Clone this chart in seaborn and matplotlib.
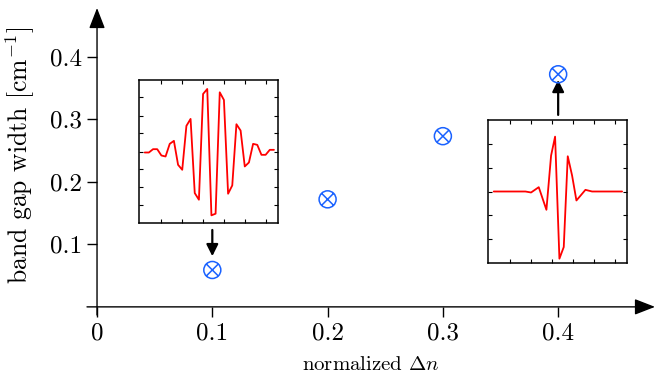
import matplotlib
matplotlib.use('Agg')
import matplotlib.pyplot as plt
import seaborn as sns
import numpy as np
import pandas as pd
from matplotlib.path import Path

# main data: band gap width vs normalized index contrast
dn = [0.1, 0.2, 0.3, 0.4]
gap = [0.059, 0.172, 0.273, 0.372]
xtick_vals = [0, 0.1, 0.2, 0.3, 0.4]
xtick_labels = ['0', '0.1', '0.2', '0.3', '0.4']
ytick_vals = [0.1, 0.2, 0.3, 0.4]
ytick_labels = ['0.1', '0.2', '0.3', '0.4']

# inset 1 (dn = 0.1): field profile, arbitrary units
t1 = list(range(32))
v1 = [-3, -3, 7, 7, -12, -15, 23, 32, -40, -55, 77, 98, -125, -145, 173, 188,
      -192, -187, 178, 155, -127, -102, 82, 63, -45, -33, 23, 20, -10, -10, 5, 5]

# inset 2 (dn = 0.4)
t2 = [0, 7.6, 8.96, 10.8, 12.64, 13.76, 14.72, 15.76, 16.8, 17.76, 18.8, 19.84, 22, 23.6, 30.8]
v2 = [0, 0, -3, 13, -55, 108, 165, -202, -167, 106, 48, -27, 5, 0, 0]

sns.set_style('white')
plt.rcParams['font.family'] = ['cmr10', 'DejaVu Serif']
plt.rcParams['mathtext.fontset'] = 'cm'
plt.rcParams['axes.unicode_minus'] = False
plt.rcParams['axes.formatter.use_mathtext'] = True
for k in ['text.color', 'axes.labelcolor', 'xtick.color', 'ytick.color']:
    plt.rcParams[k] = 'black'

fig = plt.figure(figsize=(6.58, 3.81), dpi=100)
ax = fig.add_axes([87 / 658, 1 - 315 / 381, 568 / 658, 307 / 381])
ax.set_facecolor('none')

xmin, xmax = -0.0087, 0.484
ymin, ymax = -0.013, 0.478
ax.set_xlim(xmin, xmax)
ax.set_ylim(ymin, ymax)

# circle with a cross inside
circ = Path.unit_circle()
r = 0.7071
cross = Path([(-r, -r), (r, r), (-r, r), (r, -r)],
             [Path.MOVETO, Path.LINETO, Path.MOVETO, Path.LINETO])
otimes = Path.make_compound_path(circ, cross)

df = pd.DataFrame({'dn': dn, 'gap': gap})
sns.scatterplot(data=df, x='dn', y='gap', ax=ax, marker=otimes, s=150,
                facecolor='none', edgecolor='#1a62ff', linewidth=1.1, zorder=5)

for s in ax.spines.values():
    s.set_visible(False)
ax.spines['bottom'].set_position(('data', 0))
ax.spines['left'].set_position(('data', 0))

ax.set_xticks(xtick_vals)
ax.set_xticklabels(xtick_labels)
ax.set_yticks(ytick_vals)
ax.set_yticklabels(ytick_labels)
ax.tick_params(direction='out', length=7, width=1, labelsize=18, pad=4,
               bottom=True, left=True, top=False, right=False)
ax.set_xlabel(r'normalized $\Delta n$', fontsize=15)
ax.set_ylabel(r'band gap width [cm$^{-1}$]', fontsize=18.5)
ax.xaxis.set_label_coords(0.5, -0.135)
ax.yaxis.set_label_coords(-0.088, 0.52)

# axes with arrow heads
head = dict(arrowstyle='-|>,head_length=0.9,head_width=0.35', lw=1.0, color='k',
            mutation_scale=14, shrinkA=0, shrinkB=0)
ax.annotate('', xy=(xmax, 0), xytext=(xmin, 0), arrowprops=head, annotation_clip=False)
ax.annotate('', xy=(0, ymax), xytext=(0, ymin), arrowprops=head, annotation_clip=False)

# small arrows pointing from insets to points
small = dict(arrowstyle='-|>,head_length=0.5,head_width=0.25', lw=1.6, color='k',
             mutation_scale=14, shrinkA=0, shrinkB=0)
ax.annotate('', xy=(0.1, 0.081), xytext=(0.1, 0.123), arrowprops=small)
ax.annotate('', xy=(0.4, 0.363), xytext=(0.4, 0.307), arrowprops=small)

# insets
def inset(rect, t, v, yticks):
    a = fig.add_axes(rect)
    sns.lineplot(x=t, y=v, ax=a, color='red', lw=1.3, sort=False)
    a.set_xlim(-1.3, 31.9)
    a.set_ylim(-215, 215)
    a.set_xticks([4, 9, 14, 19, 24, 29])
    a.set_yticks(yticks)
    a.tick_params(direction='in', length=3, width=0.8, top=True, right=True,
                  bottom=True, left=True, labelbottom=False, labelleft=False)
    for s in a.spines.values():
        s.set_linewidth(1.1)
        s.set_color('k')
    return a

inset([139.3 / 658, 1 - 223 / 381, 138.4 / 658, 143 / 381], t1, v1,
      [-160, -107, -53, 0, 55, 108, 163])
inset([488.3 / 658, 1 - 263 / 381, 138.4 / 658, 143 / 381], t2, v2,
      [-144, -72, 0, 71, 143])

fig.savefig('out.png', dpi=100)
